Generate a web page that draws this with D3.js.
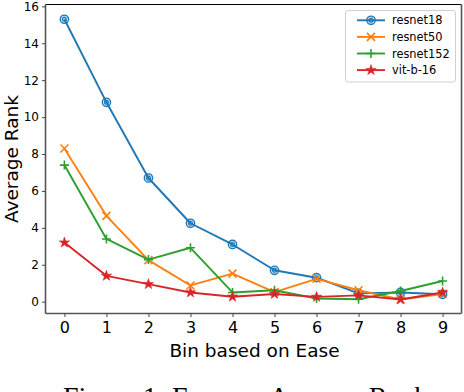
<!doctype html>
<html>
<head>
  <meta charset="utf8"/>
  <style>
    body { margin: 0; background: #fff; }
    svg { display: block; }
    .tick-y text { font: 12px 'DejaVu Sans', sans-serif; fill: #000; }
    .tick-x text { font: 16px 'DejaVu Sans', sans-serif; fill: #000; }
    .label { font: 18.5px 'DejaVu Sans', sans-serif; fill: #000; }
    .legend text { font: 11.4px 'DejaVu Sans', sans-serif; fill: #000; }
    .caption { font: 28px 'Liberation Serif', 'Times New Roman', serif; fill: #000; }
    .line { fill: none; stroke-width: 1.9px; stroke-linejoin: round; }
  </style>
</head>
<body>
  <svg width='464' height='392'></svg>
  <script src="https://cdn.jsdelivr.net/npm/d3@7"></script>
  <script>

    // values
    var bins = [0, 1, 2, 3, 4, 5, 6, 7, 8, 9];
    var resnet18  = [15.3, 10.8, 6.7, 4.25, 3.1, 1.7, 1.3, 0.45, 0.5, 0.4];
    var resnet50  = [8.3, 4.65, 2.25, 0.88, 1.52, 0.52, 1.24, 0.62, 0.12, 0.42];
    var resnet152 = [7.4, 3.4, 2.28, 2.92, 0.5, 0.62, 0.17, 0.13, 0.58, 1.12];
    var vitb16    = [3.2, 1.4, 0.95, 0.5, 0.27, 0.42, 0.26, 0.34, 0.12, 0.5];
    var yTicks = [0, 2, 4, 6, 8, 10, 12, 14, 16];

    var series = [
      {id: 'resnet18',  values: resnet18,  color: '#1f77b4', marker: 'circle'},
      {id: 'resnet50',  values: resnet50,  color: '#ff7f0e', marker: 'x'},
      {id: 'resnet152', values: resnet152, color: '#2ca02c', marker: 'plus'},
      {id: 'vit-b-16',  values: vitb16,    color: '#d62728', marker: 'star'}
    ];

    var svg = d3.select('svg');
    var box = {left: 45.5, right: 461.5, top: 4.5, bottom: 313.5};

    var x = d3.scaleLinear().domain([-0.45, 9.45]).range([box.left, box.right]);
    var y = d3.scaleLinear().domain([-0.64, 16.1]).range([box.bottom, box.top]);

    // frame
    svg.append('line')
      .attr('x1', box.left).attr('x2', box.right)
      .attr('y1', box.top).attr('y2', box.top)
      .attr('stroke', '#000').attr('stroke-width', 1.1);
    [[box.left, box.top, box.left, box.bottom],
     [box.right, box.top, box.right, box.bottom],
     [box.left, box.bottom, box.right, box.bottom]].forEach(function(s) {
      svg.append('line')
        .attr('x1', s[0]).attr('y1', s[1]).attr('x2', s[2]).attr('y2', s[3])
        .attr('stroke', '#555').attr('stroke-width', 1.6);
    });

    // axes
    var yAxis = svg.append('g').attr('class', 'tick-y')
      .attr('transform', 'translate(' + box.left + ',0)')
      .call(d3.axisLeft(y).tickValues(yTicks).tickSize(3.5).tickPadding(3));
    var xAxis = svg.append('g').attr('class', 'tick-x')
      .attr('transform', 'translate(0,' + box.bottom + ')')
      .call(d3.axisBottom(x).tickValues(bins).tickSize(3.5).tickPadding(5));
    [yAxis, xAxis].forEach(function(a) {
      a.select('.domain').remove();
      a.selectAll('.tick line').attr('stroke', '#444').attr('stroke-width', 1);
    });

    svg.append('text').attr('class', 'label')
      .attr('x', (box.left + box.right) / 2 + 1).attr('y', 357)
      .attr('text-anchor', 'middle')
      .text('Bin based on Ease');

    svg.append('text').attr('class', 'label')
      .attr('transform', 'translate(17.5,' + ((box.top + box.bottom) / 2) + ') rotate(-90)')
      .attr('text-anchor', 'middle')
      .text('Average Rank');

    // markers
    function drawMarker(sel, kind, color) {
      if (kind === 'circle') {
        sel.append('circle').attr('r', 4.2)
          .attr('fill', 'rgba(31,119,180,0.25)').attr('stroke', color).attr('stroke-width', 1.3);
        sel.append('circle').attr('r', 1.9)
          .attr('fill', 'none').attr('stroke', color).attr('stroke-width', 1.2);
      } else if (kind === 'x') {
        sel.append('path').attr('d', 'M-4,-4L4,4M-4,4L4,-4')
          .attr('stroke', color).attr('stroke-width', 1.6);
      } else if (kind === 'plus') {
        sel.append('path').attr('d', 'M-4.5,0L4.5,0M0,-4.5L0,4.5')
          .attr('stroke', color).attr('stroke-width', 1.6);
      } else {
        sel.append('path').attr('d', d3.symbol(d3.symbolStar, 34)())
          .attr('fill', color).attr('stroke', color).attr('stroke-width', 0.6);
      }
    }

    var line = d3.line()
      .x(function(d, i) { return x(bins[i]); })
      .y(function(d) { return y(d); });

    var g = svg.selectAll('.series').data(series)
      .enter().append('g').attr('class', 'series');

    g.append('path').attr('class', 'line')
      .attr('d', function(d) { return line(d.values); })
      .style('stroke', function(d) { return d.color; });

    g.each(function(s) {
      d3.select(this).selectAll('.pt').data(s.values)
        .enter().append('g').attr('class', 'pt')
        .attr('transform', function(d, i) { return 'translate(' + x(bins[i]) + ',' + y(d) + ')'; })
        .each(function() { drawMarker(d3.select(this), s.marker, s.color); });
    });

    // legend
    var legend = svg.append('g').attr('class', 'legend');
    legend.append('rect')
      .attr('x', 345.5).attr('y', 10.5).attr('width', 110).attr('height', 71.5)
      .attr('rx', 2.5)
      .attr('fill', 'rgba(255,255,255,0.8)').attr('stroke', '#d0d0d0').attr('stroke-width', 1);
    var item = legend.selectAll('.item').data(series)
      .enter().append('g').attr('class', 'item')
      .attr('transform', function(d, i) { return 'translate(0,' + (20.3 + i * 16.6) + ')'; });
    item.append('line')
      .attr('x1', 357).attr('x2', 385)
      .attr('stroke', function(d) { return d.color; }).attr('stroke-width', 1.9);
    item.each(function(s) {
      var m = d3.select(this).append('g').attr('transform', 'translate(371,0)');
      drawMarker(m, s.marker, s.color);
    });
    item.append('text')
      .attr('x', 392).attr('dy', '0.35em')
      .text(function(d) { return d.id; });

    // figure caption, cut off by the bottom edge as in the source image
    svg.append('text').attr('class', 'caption')
      .attr('x', 63).attr('y', 406)
      .text('Figure 1: Ease vs. Average Rank');

  </script>
</body>
</html>
